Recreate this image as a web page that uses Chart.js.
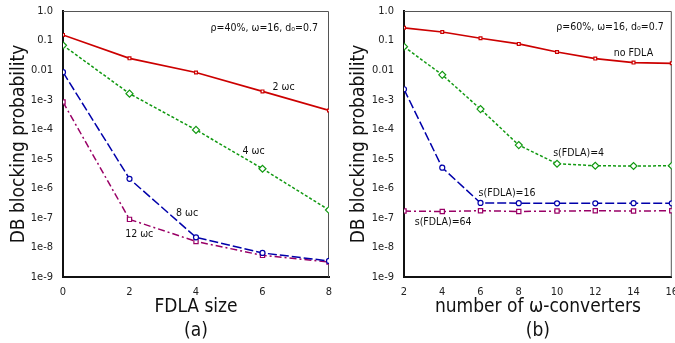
<!DOCTYPE html>
<html>
<head>
<meta charset="utf-8">
<script src="https://cdn.jsdelivr.net/npm/chart.js@4"></script>
<style>
  body { margin: 0; background: #fff; overflow: hidden; }
  #wrap { position: relative; width: 675px; height: 343px; overflow: hidden; }
  .box { position: absolute; top: 0; height: 343px; }
  #boxA { left: 0; width: 340px; }
  #boxB { left: 340px; width: 337px; }
</style>
</head>
<body>
<div id="wrap">
  <div class="box" id="boxA"><canvas id="chartA"></canvas></div>
  <div class="box" id="boxB"><canvas id="chartB"></canvas></div>
</div>
<script>
// y axis (shared)
const yTicks = [1e-9, 1e-8, 1e-7, 1e-6, 1e-5, 1e-4, 1e-3, 0.01, 0.1, 1];
const yTickLabels = ['1e-9', '1e-8', '1e-7', '1e-6', '1e-5', '1e-4', '1e-3', '0.01', '0.1', '1.0'];

// (a) FDLA size
const fdlaSize = [0, 2, 4, 6, 8];
const wc2 = [0.155, 0.025, 0.0083, 0.0019, 4.3e-4];
const wc4 = [0.069, 1.6e-3, 9.5e-5, 4.6e-6, 1.85e-7];
const wc8 = [8.5e-3, 2.1e-6, 2.2e-8, 6.5e-9, 3.5e-9];
const wc12 = [8.3e-4, 8.9e-8, 1.6e-8, 5.4e-9, 3.2e-9];

// (b) number of w-converters
const numConverters = [2, 4, 6, 8, 10, 12, 14, 16];
const noFdla = [0.27, 0.195, 0.12, 0.077, 0.041, 0.0245, 0.018, 0.017];
const sFdla4 = [0.062, 0.0069, 4.8e-4, 2.9e-5, 6.8e-6, 5.8e-6, 5.7e-6, 5.8e-6];
const sFdla16 = [2.25e-3, 5e-6, 3.2e-7, 3.15e-7, 3.1e-7, 3.1e-7, 3.15e-7, 3.1e-7];
const sFdla64 = [1.7e-7, 1.65e-7, 1.75e-7, 1.65e-7, 1.7e-7, 1.75e-7, 1.7e-7, 1.75e-7];

const FONT = '"DejaVu Sans Condensed", "DejaVu Sans"';

const styles = {
    red: { borderColor: '#cc0000', borderWidth: 1.7, borderDash: [], pointStyle: 'rect', pointRadius: 2 },
    green: { borderColor: '#119911', borderWidth: 1.5, borderDash: [3, 2], pointStyle: 'rectRot', pointRadius: 3.5 },
    blue: { borderColor: '#0000aa', borderWidth: 1.5, borderDash: [9, 3], pointStyle: 'circle', pointRadius: 2.5 },
    purple: { borderColor: '#990066', borderWidth: 1.5, borderDash: [7, 3, 2, 3], pointStyle: 'rect', pointRadius: 3 }
};

function series(xs, ys, style) {
    return Object.assign({
        data: xs.map((x, i) => ({ x: x, y: ys[i] })),
        pointBackgroundColor: '#fff',
        pointBorderColor: style.borderColor,
        pointBorderWidth: 1.2,
        tension: 0,
        fill: false
    }, style);
}

// text notes and gray top/right frame
const notesPlugin = {
    id: 'notes',
    beforeDatasetsDraw(chart) {
        const a = chart.chartArea;
        const ctx = chart.ctx;
        ctx.save();
        ctx.strokeStyle = '#555';
        ctx.lineWidth = 1;
        ctx.beginPath();
        ctx.moveTo(a.left, a.top + 0.5);
        ctx.lineTo(a.right - 0.5, a.top + 0.5);
        ctx.lineTo(a.right - 0.5, a.bottom);
        ctx.stroke();
        ctx.restore();
    },
    afterDatasetsDraw(chart, args, opts) {
        const ctx = chart.ctx;
        const xs = chart.scales.x, ys = chart.scales.y;
        ctx.save();
        ctx.fillStyle = '#111';
        ctx.textBaseline = 'middle';
        ctx.font = '10.5px ' + FONT;
        (opts.items || []).forEach(n => {
            ctx.textAlign = n.align || 'left';
            ctx.fillText(n.text, xs.getPixelForValue(n.x), ys.getPixelForValue(n.y));
        });
        ctx.restore();
    }
};

function makeChart(id, xs, xMin, xMax, datasets, xTitle, notes, padRight, yWidth) {
    return new Chart(document.getElementById(id), {
        type: 'line',
        data: { datasets: datasets },
        options: {
            responsive: true,
            maintainAspectRatio: false,
            animation: false,
            layout: { padding: { top: 11, right: padRight, left: 0, bottom: 0 } },
            plugins: { legend: { display: false }, tooltip: { enabled: false }, notes: { items: notes } },
            scales: {
                x: {
                    type: 'linear', min: xMin, max: xMax,
                    grid: { display: false },
                    border: { display: true, color: '#111', width: 2 },
                    ticks: { stepSize: 2, color: '#222', font: { family: FONT, size: 11 }, padding: 1, maxRotation: 0 },
                    title: { display: true, text: xTitle, color: '#111', font: { family: FONT, size: 19, lineHeight: 1.25 }, padding: { top: 0, bottom: 0 } },
                    afterFit(scale) { scale.height = 66; scale.paddingRight = 0; scale.paddingLeft = 0; }
                },
                y: {
                    type: 'logarithmic', min: 1e-9, max: 1,
                    grid: { display: false },
                    border: { display: true, color: '#111', width: 2 },
                    afterBuildTicks(scale) { scale.ticks = yTicks.map(v => ({ value: v })); },
                    ticks: {
                        color: '#222', font: { family: FONT, size: 11 }, padding: 2,
                        callback: (v) => yTickLabels[yTicks.indexOf(v)]
                    },
                    title: { display: true, text: 'DB blocking probability', color: '#111', font: { family: FONT, size: 19 }, padding: { top: 8, bottom: 0 } },
                    afterFit(scale) { scale.width = yWidth; scale.paddingTop = 0; scale.paddingBottom = 0; }
                }
            }
        },
        plugins: [notesPlugin]
    });
}

makeChart('chartA', fdlaSize, 0, 8, [
    series(fdlaSize, wc2, styles.red),
    series(fdlaSize, wc4, styles.green),
    series(fdlaSize, wc8, styles.blue),
    series(fdlaSize, wc12, styles.purple)
], ['FDLA size', '(a)'], [
    { text: 'ρ=40%, ω=16, d₀=0.7', x: 7.67, y: 0.27, align: 'right' },
    { text: '2 ωc', x: 6.3, y: 2.7e-3 },
    { text: '4 ωc', x: 5.4, y: 1.8e-5 },
    { text: '8 ωc', x: 3.4, y: 1.4e-7 },
    { text: '12 ωc', x: 1.87, y: 2.7e-8 }
], 11, 63);

makeChart('chartB', numConverters, 2, 16, [
    series(numConverters, noFdla, styles.red),
    series(numConverters, sFdla4, styles.green),
    series(numConverters, sFdla16, styles.blue),
    series(numConverters, sFdla64, styles.purple)
], ['number of ω-converters', '(b)'], [
    { text: 'ρ=60%, ω=16, d₀=0.7', x: 15.58, y: 0.28, align: 'right' },
    { text: 'no FDLA', x: 12.96, y: 0.037 },
    { text: 's(FDLA)=4', x: 9.8, y: 1.5e-5 },
    { text: 's(FDLA)=16', x: 5.9, y: 6.9e-7 },
    { text: 's(FDLA)=64', x: 2.56, y: 7e-8 }
], 0, 64);
</script>
</body>
</html>
